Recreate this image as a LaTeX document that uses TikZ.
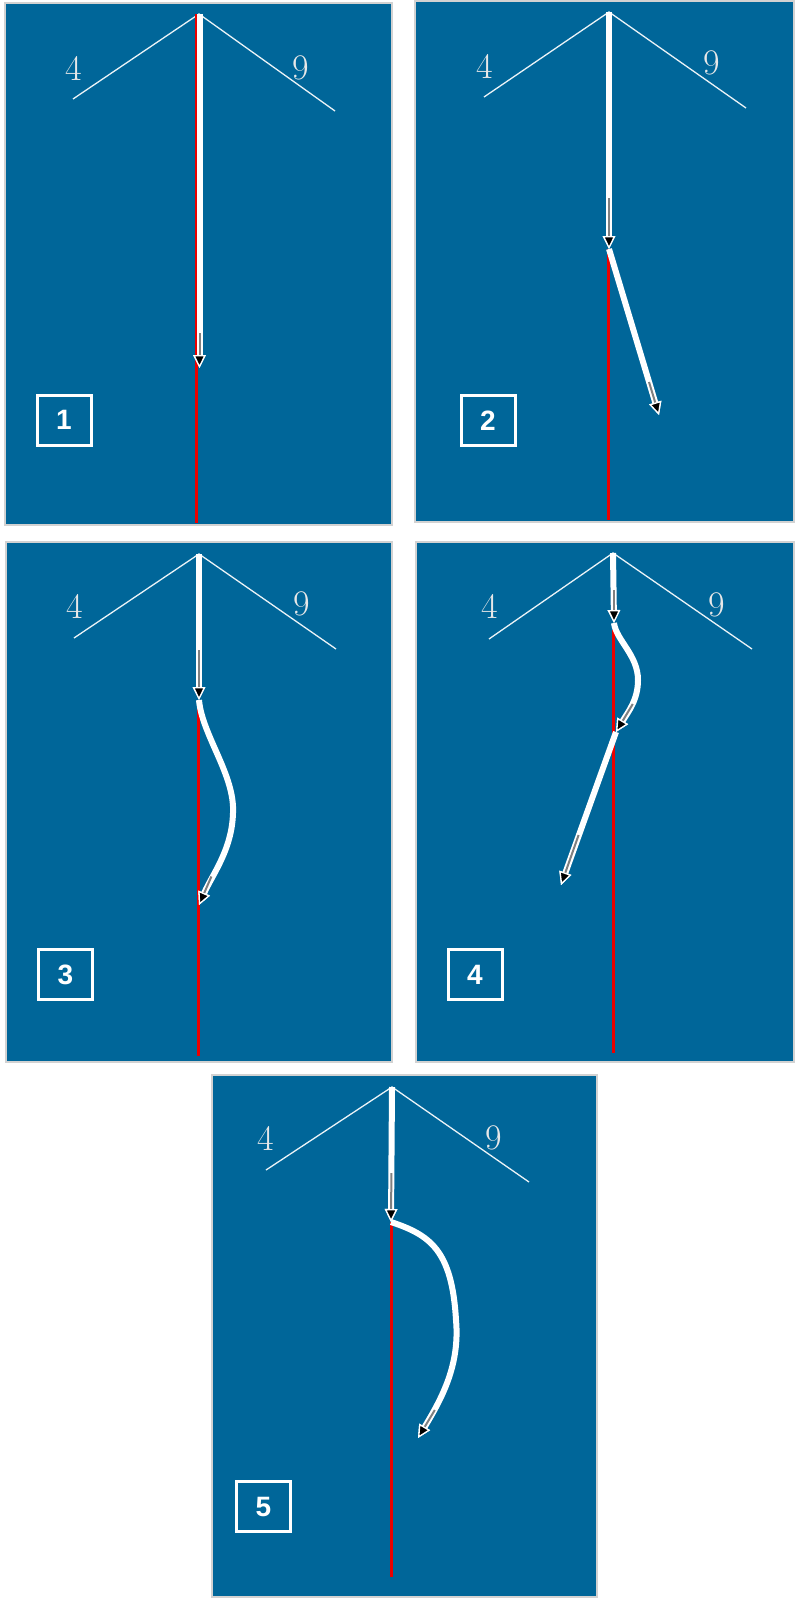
\documentclass[tikz,border=0pt]{standalone}
\usepackage{fontspec}
\newfontfamily\boxfont{Liberation Sans}
\usetikzlibrary{arrows.meta}
\definecolor{panelblue}{RGB}{0,102,153}
\definecolor{panelrim}{RGB}{210,210,210}
\definecolor{lblgray}{RGB}{232,232,232}
\definecolor{redln}{RGB}{235,0,0}
\tikzset{
  mytip/.tip={Triangle[length=13pt,width=12.5pt,line width=1.3pt,color=white,fill=black]},
  panel/.style={fill=panelblue, draw=panelrim, line width=1.5pt},
  vline/.style={draw=white!92!panelblue, line width=1.3pt},
  lbl/.style={text=lblgray, font=\fontsize{36}{36}\selectfont, inner sep=0pt},
  numbox/.style={draw=white, line width=3pt, minimum width=54pt, minimum height=50pt, inner sep=0pt, text=white, font=\boxfont\bfseries\fontsize{28}{28}\selectfont},
  redline/.style={draw=redln, line width=3pt},
  shaft/.style={draw=white, line width=6pt, -{mytip}},
  grayin/.style={draw=gray, line width=2pt, -{mytip}}
}
\begin{document}
\begin{tikzpicture}[x=1pt,y=-1pt]
\useasboundingbox (0,0) rectangle (795,1600);
\fill[white] (0,0) rectangle (795,1600);
% panels
\draw[panel] (5,3) rectangle (392,525);
\draw[panel] (415,1) rectangle (794,522);
\draw[panel] (6,542) rectangle (392,1062);
\draw[panel] (416,542) rectangle (794,1062);
\draw[panel] (212,1075) rectangle (597,1597);

% ---------- panel 1
\coordinate (a1) at (199,14);
\coordinate (l1) at (73,99);
\coordinate (r1) at (335,111);
\draw[vline] (l1) -- (a1) -- (r1);
\node[lbl] (p1four) at (73.5,68.5) {4};
\node[lbl] (p1nine) at (301,67.5) {9};
\coordinate (rt1) at (196.5,14);
\coordinate (rb1) at (196.5,523);
\draw[redline] (rt1) -- (rb1);
\coordinate (t1) at (199.5,368);
\coordinate (a1s) at (199.5,14);
\coordinate (g1) at (199.5,333);
\draw[shaft] (a1s) -- (t1);
\draw[grayin] (g1) -- (t1);
\node[numbox] (b1) at (64,420) {1};

% ---------- panel 2
\coordinate (a2) at (609,12);
\coordinate (l2) at (484,97);
\coordinate (r2) at (746,108);
\draw[vline] (l2) -- (a2) -- (r2);
\node[lbl] (p2four) at (485,66) {4};
\node[lbl] (p2nine) at (712,63) {9};
\coordinate (t2a) at (609,249);
\coordinate (g2a) at (609,198);
\coordinate (rt2) at (608.5,249);
\coordinate (rb2) at (608.5,520);
\draw[redline] (rt2) -- (rb2);
\draw[shaft] (a2) -- (t2a);
\draw[grayin] (g2a) -- (t2a);
\coordinate (t2b) at (659,415);
\coordinate (g2b) at (649,382);
\draw[shaft] (t2a) -- (t2b);
\draw[grayin] (g2b) -- (t2b);
\node[numbox] (b2) at (488,420.5) {2};

% ---------- panel 3
\coordinate (a3) at (199,554);
\coordinate (l3) at (74,638);
\coordinate (r3) at (336,649);
\draw[vline] (l3) -- (a3) -- (r3);
\node[lbl] (p3four) at (74.5,606) {4};
\node[lbl] (p3nine) at (302,604) {9};
\coordinate (t3a) at (199,700);
\coordinate (g3a) at (199,650);
\coordinate (rt3) at (198,700);
\coordinate (rb3) at (198,1056);
\draw[redline] (rt3) -- (rb3);
\draw[shaft] (a3) -- (t3a);
\draw[grayin] (g3a) -- (t3a);
\coordinate (m3) at (233,813);
\coordinate (t3b) at (199,905);
\coordinate (g3b) at (211.4,876.5);
\draw[shaft] (t3a) .. controls (202,735) and (235,775) .. (m3)
                   .. controls (232,850) and (212,875) .. (t3b);
\draw[grayin] (g3b) -- (t3b);
\node[numbox] (b3) at (65.5,974.5) {3};

% ---------- panel 4
\coordinate (a4) at (613,553);
\coordinate (l4) at (489,639);
\coordinate (r4) at (752,649);
\draw[vline] (l4) -- (a4) -- (r4);
\node[lbl] (p4four) at (490,606) {4};
\node[lbl] (p4nine) at (717,605) {9};
\coordinate (t4a) at (614,623);
\coordinate (g4a) at (614,590);
\coordinate (rt4) at (613,630);
\coordinate (rb4) at (613,1053);
\draw[redline] (rt4) -- (rb4);
\draw[shaft] (a4) -- (t4a);
\draw[grayin] (g4a) -- (t4a);
\coordinate (m4) at (638,680);
\coordinate (t4b) at (616,732);
\coordinate (g4b) at (632.8,704);
\draw[shaft] (t4a) .. controls (616,640) and (638,655) .. (m4)
                   .. controls (638,700) and (628,712) .. (t4b);
\draw[grayin] (g4b) -- (t4b);
\coordinate (t4c) at (561,885);
\coordinate (g4c) at (578.6,835);
\draw[shaft] (t4b) -- (t4c);
\draw[grayin] (g4c) -- (t4c);
\node[numbox] (b4) at (475,974.5) {4};

% ---------- panel 5
\coordinate (a5) at (392,1087);
\coordinate (l5) at (266,1170);
\coordinate (r5) at (529,1182);
\draw[vline] (l5) -- (a5) -- (r5);
\node[lbl] (p5four) at (266,1138) {4};
\node[lbl] (p5nine) at (494,1138) {9};
\coordinate (t5a) at (391,1222);
\coordinate (g5a) at (391.4,1173);
\coordinate (rt5) at (391,1222);
\coordinate (rb5) at (391,1577);
\draw[redline] (rt5) -- (rb5);
\draw[shaft] (a5) -- (t5a);
\draw[grayin] (g5a) -- (t5a);
\coordinate (m5) at (456,1320);
\coordinate (t5b) at (418,1438);
\coordinate (g5b) at (434.8,1410);
\draw[shaft] (t5a) .. controls (430,1235) and (452,1250) .. (m5)
                   .. controls (460,1365) and (442,1398) .. (t5b);
\draw[grayin] (g5b) -- (t5b);
\node[numbox] (b5) at (263.5,1506.5) {5};
\end{tikzpicture}
\end{document}
